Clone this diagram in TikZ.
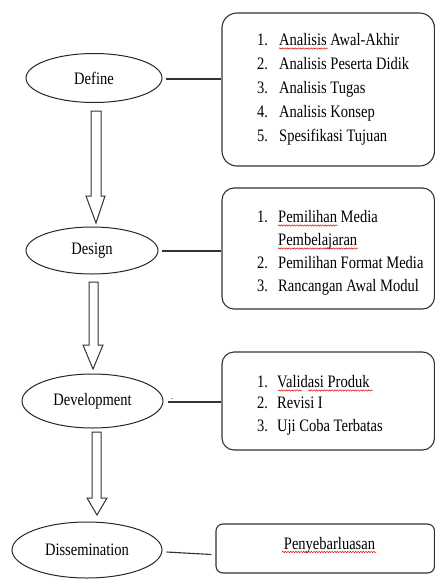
\documentclass[tikz,border=0pt]{standalone}
\usepackage{fontspec}
\setmainfont{Liberation Serif}
\usepackage{graphicx}
\usetikzlibrary{shapes.geometric,decorations.pathmorphing,calc}
\newcommand\sq[1]{\scalebox{0.83}[1]{#1}}
\tikzset{
  stage/.style={draw=black!85, line width=1pt, ellipse, inner sep=0pt, font=\fontsize{17.5}{20}\selectfont},
  listbox/.style={draw=black!80, line width=1.1pt, rectangle, inner sep=0pt},
  item/.style={anchor=base west, inner sep=0pt, font=\fontsize{17.5}{20}\selectfont},
  link/.style={draw=black!80, line width=1.1pt},
  barrow/.style={draw=black!80, line width=1pt, fill=white, line join=miter},
  spell/.style={draw=red!85!black, line width=0.45pt, decorate, decoration={snake, amplitude=0.7pt, segment length=2.6pt}}
}
\begin{document}
\begin{tikzpicture}[x=1pt,y=-1pt]
\useasboundingbox (0,0) rectangle (435,579);

% stages
\node[stage, minimum width=136pt, minimum height=49pt] (define) at (94,78) {\sq{Define}};
\node[stage, minimum width=132pt, minimum height=47pt] (design) at (92,250.5) {\sq{Design}};
\node[stage, minimum width=141pt, minimum height=54pt] (devel) at (92.5,401) {\sq{Development}};
\node[stage, minimum width=150pt, minimum height=56pt] (dissem) at (87,550) {\sq{Dissemination}};

% boxes
\node[listbox, rounded corners=15pt, minimum width=212.5pt, minimum height=153pt] (box1) at (328.25,89.5) {};
\node[listbox, rounded corners=12pt, minimum width=212.5pt, minimum height=121pt] (box2) at (328.25,248.5) {};
\node[listbox, rounded corners=12pt, minimum width=212.5pt, minimum height=98pt] (box3) at (328.25,401) {};
\node[listbox, rounded corners=7pt, minimum width=218.5pt, minimum height=49pt] (box4) at (325.25,548.5) {};

% box 1 items
\node[item] (n11) at (257,45) {\sq{1.}};  \node[item] (t11) at (279,45) {\sq{Analisis Awal-Akhir}};
\node[item] (n12) at (257,69) {\sq{2.}};  \node[item] (t12) at (279,69) {\sq{Analisis Peserta Didik}};
\node[item] (n13) at (257,93) {\sq{3.}};  \node[item] (t13) at (279,93) {\sq{Analisis Tugas}};
\node[item] (n14) at (257,117) {\sq{4.}}; \node[item] (t14) at (279,117) {\sq{Analisis Konsep}};
\node[item] (n15) at (257,141) {\sq{5.}}; \node[item] (t15) at (279,141) {\sq{Spesifikasi Tujuan}};

% box 2 items
\node[item] (n21) at (257,222) {\sq{1.}}; \node[item] (t21) at (278,222) {\sq{Pemilihan Media}};
\node[item] (t21b) at (278,245) {\sq{Pembelajaran}};
\node[item] (n22) at (257,268) {\sq{2.}}; \node[item] (t22) at (278,268) {\sq{Pemilihan Format Media}};
\node[item] (n23) at (257,291) {\sq{3.}}; \node[item] (t23) at (278,291) {\sq{Rancangan Awal Modul}};

% box 3 items
\node[item] (n31) at (257,387) {\sq{1.}}; \node[item] (t31) at (277,387) {\sq{Validasi Produk}};
\node[item] (n32) at (257,408) {\sq{2.}}; \node[item] (t32) at (277,408) {\sq{Revisi I}};
\node[item] (n33) at (257,431) {\sq{3.}}; \node[item] (t33) at (277,431) {\sq{Uji Coba Terbatas}};

% box 4 text
\node[item, anchor=base] (t41) at (329.5,549) {\sq{Penyebarluasan}};

% stray dot
\node[anchor=base, inner sep=0pt, font=\fontsize{9}{9}\selectfont] (dot) at (172,399.5) {.};

% spell-check underlines
\draw[spell] (279,48.5) -- (328,48.5);
\draw[spell] (278,225.5) -- (338,225.5);
\draw[spell] (278,248.5) -- (358,248.5);
\draw[spell] (278,390.5) -- (302,390.5);
\draw[spell] (308,390.5) -- (373,390.5);
\draw[spell] (282,552) -- (377,552);

% connectors
\draw[link] ([xshift=3pt]define.east) ++(0,1) -- ($(box1.west |- define.east)+(0,1)$);
\draw[link] ([xshift=3pt]design.east) ++(0,0.5) -- ($(box2.west |- design.east)+(0,0.5)$);
\draw[link] ([xshift=4pt]devel.east) ++(0,1) -- ($(box3.west |- devel.east)+(0,1)$);
\draw[link] ([shift={(4,2)}]dissem.east) -- ([shift={(-4,6)}]box4.west);

% block arrows
\draw[barrow] (91,111) -- (101,111) -- (101,196) -- (105,196) -- (96,223) -- (86,196) -- (91,196) -- cycle;
\draw[barrow] (89,282) -- (98,282) -- (98,345) -- (103,345) -- (93,369) -- (83,345) -- (89,345) -- cycle;
\draw[barrow] (92,432) -- (101,432) -- (101,498) -- (107,498) -- (97,515) -- (87,498) -- (92,498) -- cycle;
\end{tikzpicture}
\end{document}
